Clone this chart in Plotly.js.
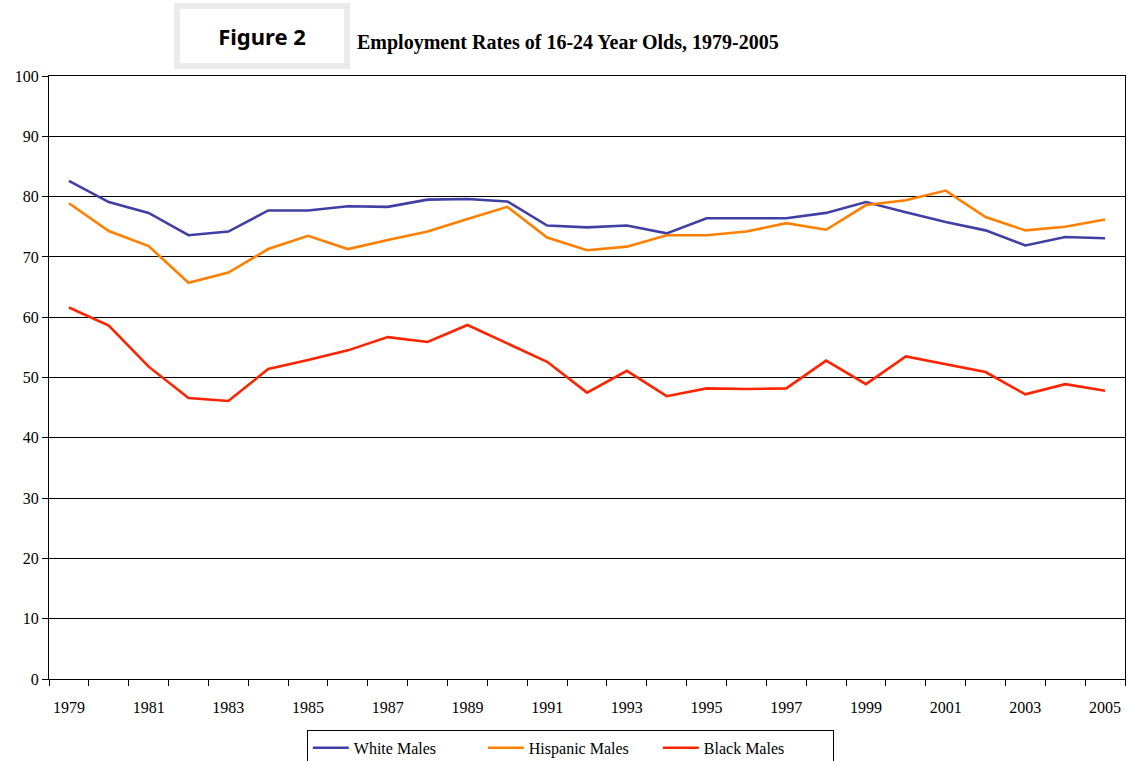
<!DOCTYPE html>
<html>
<head>
<meta charset="utf-8">
<script src="https://cdn.plot.ly/plotly-3.0.1.min.js"></script>
<style>html,body{margin:0;padding:0;background:#fff;}#chart{width:1128px;height:761px;}</style>
</head>
<body>
<div id="chart"></div>
<script>
const years = [1979,1980,1981,1982,1983,1984,1985,1986,1987,1988,1989,1990,1991,1992,1993,1994,1995,1996,1997,1998,1999,2000,2001,2002,2003,2004,2005];
const whiteMales = [82.6,79.1,77.3,73.6,74.2,77.7,77.7,78.4,78.3,79.5,79.6,79.2,75.2,74.9,75.2,73.9,76.4,76.4,76.4,77.3,79.1,77.4,75.8,74.4,71.9,73.3,73.1];
const hispanicMales = [78.9,74.3,71.8,65.7,67.4,71.3,73.5,71.3,72.8,74.2,76.3,78.3,73.2,71.1,71.7,73.6,73.6,74.2,75.6,74.5,78.6,79.4,81.0,76.6,74.4,75.0,76.2];
const blackMales = [61.6,58.6,51.8,46.6,46.1,51.4,52.9,54.5,56.7,55.9,58.7,55.7,52.6,47.5,51.1,46.9,48.2,48.1,48.2,52.8,48.9,53.5,52.2,50.9,47.2,48.9,47.8];
const seriesNames = ['White Males','Hispanic Males','Black Males'];
const tickYears = [1979,1981,1983,1985,1987,1989,1991,1993,1995,1997,1999,2001,2003,2005];
const yTicks = [0,10,20,30,40,50,60,70,80,90,100];

const colors = ['#4040A4','#FF8000','#FF2400'];
const data = [whiteMales, hispanicMales, blackMales].map((v,i)=>({
  x: years, y: v, type:'scatter', mode:'lines', name: seriesNames[i],
  line:{color:colors[i], width:2.6}
}));

const serif = 'Liberation Serif, Times New Roman, serif';
const layout = {
  width:1128, height:761,
  margin:{l:49, r:3, t:76, b:82},
  paper_bgcolor:'#fff', plot_bgcolor:'#fff',
  showlegend:true,
  legend:{orientation:'h', xref:'container', yref:'container', x:0.272, xanchor:'left', y:0.041, yanchor:'top',
    bordercolor:'#000', borderwidth:1, font:{family:serif, size:16, color:'#000'},
    entrywidth:124, itemwidth:36, tracegroupgap:0},
  xaxis:{range:[1978.5,2005.5], tickmode:'array', tickvals:tickYears, ticktext:tickYears.map(String),
    ticks:'', showgrid:false, zeroline:false, showline:true, linecolor:'#000', linewidth:1, mirror:true,
    tickfont:{family:serif, size:16, color:'#000'},
    minor:{tickmode:'linear', tick0:1978.5, dtick:1, ticks:'outside', ticklen:6, tickcolor:'#000', tickwidth:1, showgrid:false},
    ticklabelstandoff:14, automargin:false, fixedrange:true},
  yaxis:{range:[0,100], tickmode:'array', tickvals:yTicks, ticks:'outside', ticklen:6, tickcolor:'#000',
    showgrid:true, gridcolor:'#000', gridwidth:1, zeroline:false, showline:true, linecolor:'#000', linewidth:1, mirror:true,
    tickfont:{family:serif, size:16, color:'#000'}, automargin:false, fixedrange:true},
  annotations:[
    {text:'<b>Figure 2</b>', xref:'paper', yref:'paper', x:0.198, y:1.066, xanchor:'center', yanchor:'middle',
     showarrow:false, font:{family:'Noto Sans, Open Sans, sans-serif', size:22, color:'#000'},
     bgcolor:'#fff', bordercolor:'#ebebeb', borderwidth:6, width:162, height:52},
    {text:'<b>Employment Rates of 16-24 Year Olds, 1979-2005</b>', xref:'paper', yref:'paper', x:0.2844, y:1.056,
     xanchor:'left', yanchor:'middle', showarrow:false, font:{family:serif, size:20, color:'#000'}}
  ]
};
Plotly.newPlot('chart', data, layout, {displayModeBar:false, staticPlot:true});
</script>
</body>
</html>
